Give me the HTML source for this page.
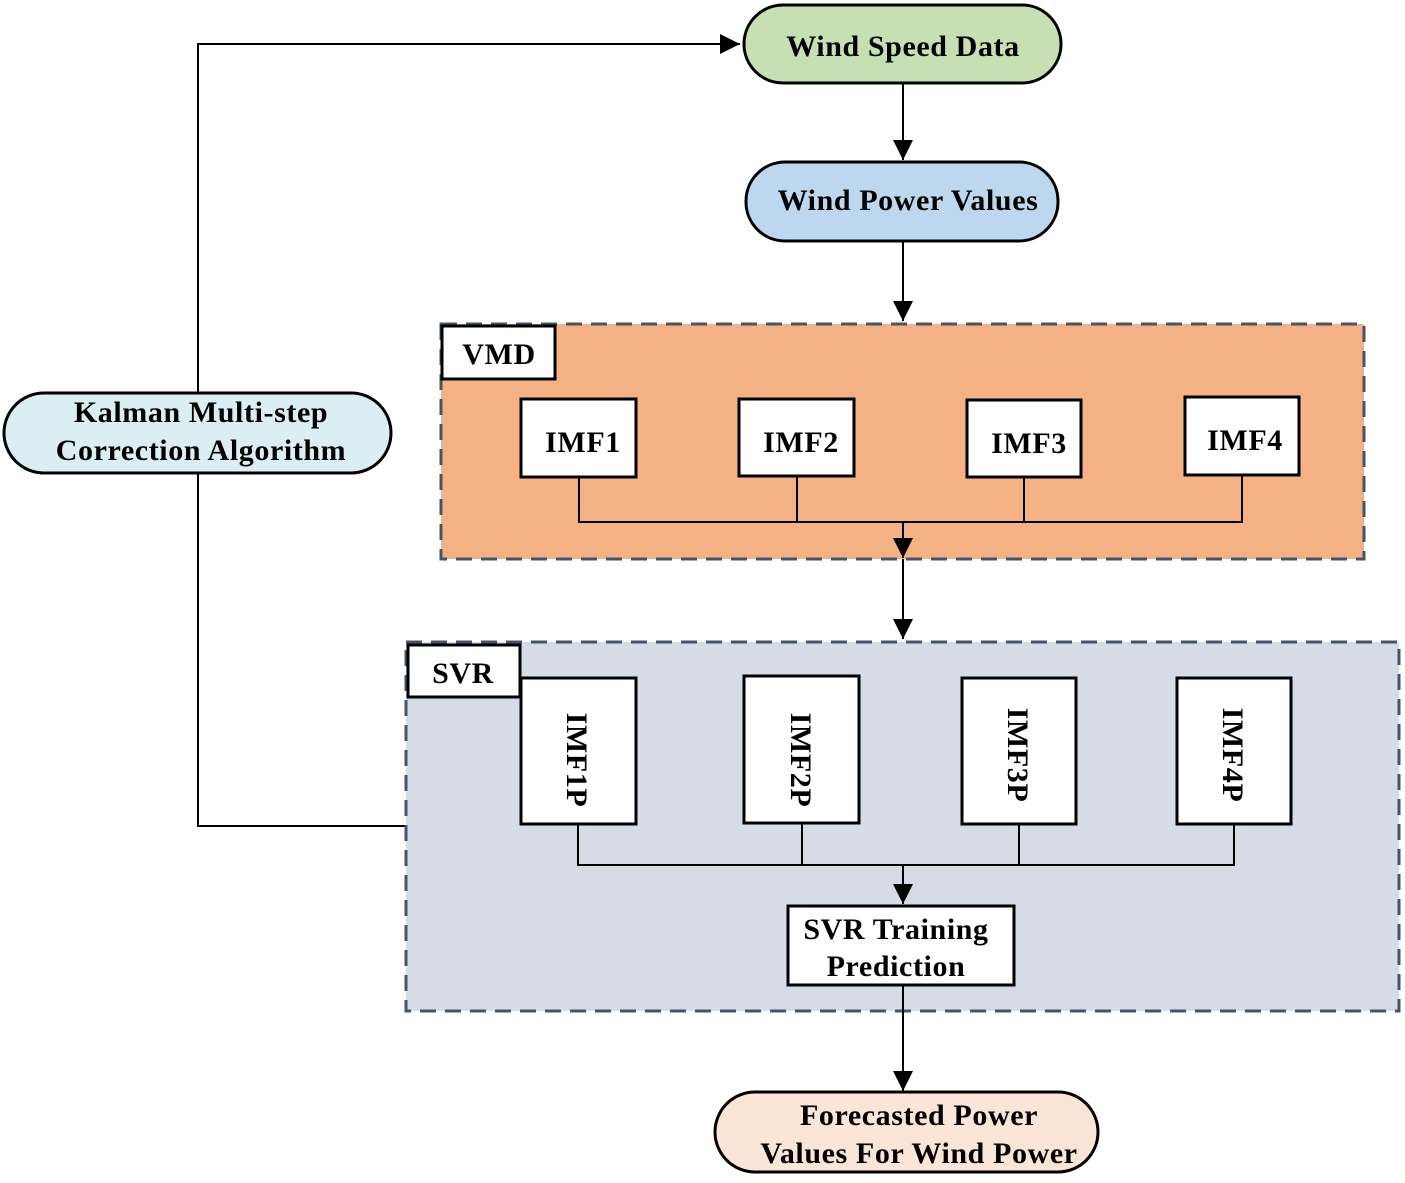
<!DOCTYPE html>
<html><head><meta charset="utf-8"><style>
html,body{margin:0;padding:0;background:#fff;}
svg text{font-family:"Liberation Serif","DejaVu Serif","Times New Roman",serif;font-weight:bold;font-size:30px;fill:#000;letter-spacing:0.6px;}
</style></head><body>
<svg width="1405" height="1178" viewBox="0 0 1405 1178" xmlns="http://www.w3.org/2000/svg" font-family="Liberation Serif, DejaVu Serif, serif" font-weight="bold">
<defs><marker id="b" markerWidth="22" markerHeight="20" refX="20" refY="10" orient="auto" markerUnits="userSpaceOnUse"><path d="M0,0 L20,10 L0,20 z" fill="#000"/></marker></defs>
<g stroke="#000" stroke-width="2" fill="none">
<polyline points="198,393 198,44 740,44" marker-end="url(#b)"/>
<polyline points="198,473 198,826 405,826"/>
<line x1="903" y1="83" x2="903" y2="160" marker-end="url(#b)"/>
<line x1="903" y1="241" x2="903" y2="321" marker-end="url(#b)"/>
</g>
<rect x="441" y="324" width="923" height="235" fill="#f4b183" stroke="#44546a" stroke-width="3" stroke-dasharray="16,9"/>
<rect x="442" y="326" width="113" height="53" fill="#fff" stroke="#000" stroke-width="3"/>
<text x="499" y="364" text-anchor="middle">VMD</text>
<g stroke="#000" stroke-width="2" fill="none">
<polyline points="579,477 579,522 1242,522 1242,475"/>
<line x1="797" y1="476" x2="797" y2="522"/>
<line x1="1024" y1="477" x2="1024" y2="522"/>
<line x1="903" y1="522" x2="903" y2="558" marker-end="url(#b)"/>
<line x1="903" y1="559" x2="903" y2="639" marker-end="url(#b)"/>
</g>
<g fill="#fff" stroke="#000" stroke-width="3">
<rect x="521" y="399" width="115" height="78"/>
<rect x="739" y="399" width="115" height="77"/>
<rect x="967" y="400" width="114" height="77"/>
<rect x="1185" y="397" width="114" height="78"/>
</g>
<text x="583" y="452" text-anchor="middle">IMF1</text>
<text x="801" y="452" text-anchor="middle">IMF2</text>
<text x="1029" y="453" text-anchor="middle">IMF3</text>
<text x="1245" y="450" text-anchor="middle">IMF4</text>
<rect x="406" y="642" width="993" height="369" fill="#d6dce5" stroke="#44546a" stroke-width="3" stroke-dasharray="16,9"/>
<rect x="408" y="645" width="112" height="52" fill="#fff" stroke="#000" stroke-width="3"/>
<text x="463" y="683" text-anchor="middle">SVR</text>
<g stroke="#000" stroke-width="2" fill="none">
<polyline points="578,824 578,865 1234,865 1234,824"/>
<line x1="802" y1="823" x2="802" y2="865"/>
<line x1="1019" y1="824" x2="1019" y2="865"/>
<line x1="903" y1="865" x2="903" y2="904" marker-end="url(#b)"/>
<line x1="903" y1="985" x2="903" y2="1091" marker-end="url(#b)"/>
</g>
<g fill="#fff" stroke="#000" stroke-width="3">
<rect x="521" y="678" width="115" height="146"/>
<rect x="744" y="676" width="115" height="147"/>
<rect x="962" y="678" width="114" height="146"/>
<rect x="1177" y="678" width="114" height="146"/>
</g>
<text transform="translate(567,760) rotate(90)" text-anchor="middle">IMF1P</text>
<text transform="translate(791,760) rotate(90)" text-anchor="middle">IMF2P</text>
<text transform="translate(1008,755) rotate(90)" text-anchor="middle">IMF3P</text>
<text transform="translate(1223,755) rotate(90)" text-anchor="middle">IMF4P</text>
<rect x="788" y="906" width="226" height="79" fill="#fff" stroke="#000" stroke-width="3"/>
<text x="896" y="939" text-anchor="middle">SVR Training</text>
<text x="896" y="976" text-anchor="middle">Prediction</text>
<rect x="744" y="5" width="317" height="78" rx="39" fill="#c6e0b4" stroke="#000" stroke-width="3"/>
<text x="903" y="56" text-anchor="middle">Wind Speed Data</text>
<rect x="746" y="162" width="312" height="79" rx="39" fill="#bdd7ee" stroke="#000" stroke-width="3"/>
<text x="908" y="210" text-anchor="middle">Wind Power Values</text>
<rect x="4" y="393" width="387" height="80" rx="40" fill="#daeef3" stroke="#000" stroke-width="3"/>
<text x="201" y="422" text-anchor="middle">Kalman Multi-step</text>
<text x="201" y="460" text-anchor="middle">Correction Algorithm</text>
<rect x="715" y="1092" width="383" height="80" rx="40" fill="#fbe5d6" stroke="#000" stroke-width="3"/>
<text x="919" y="1125" text-anchor="middle">Forecasted Power</text>
<text x="919" y="1163" text-anchor="middle">Values For Wind Power</text>
</svg>
</body></html>
